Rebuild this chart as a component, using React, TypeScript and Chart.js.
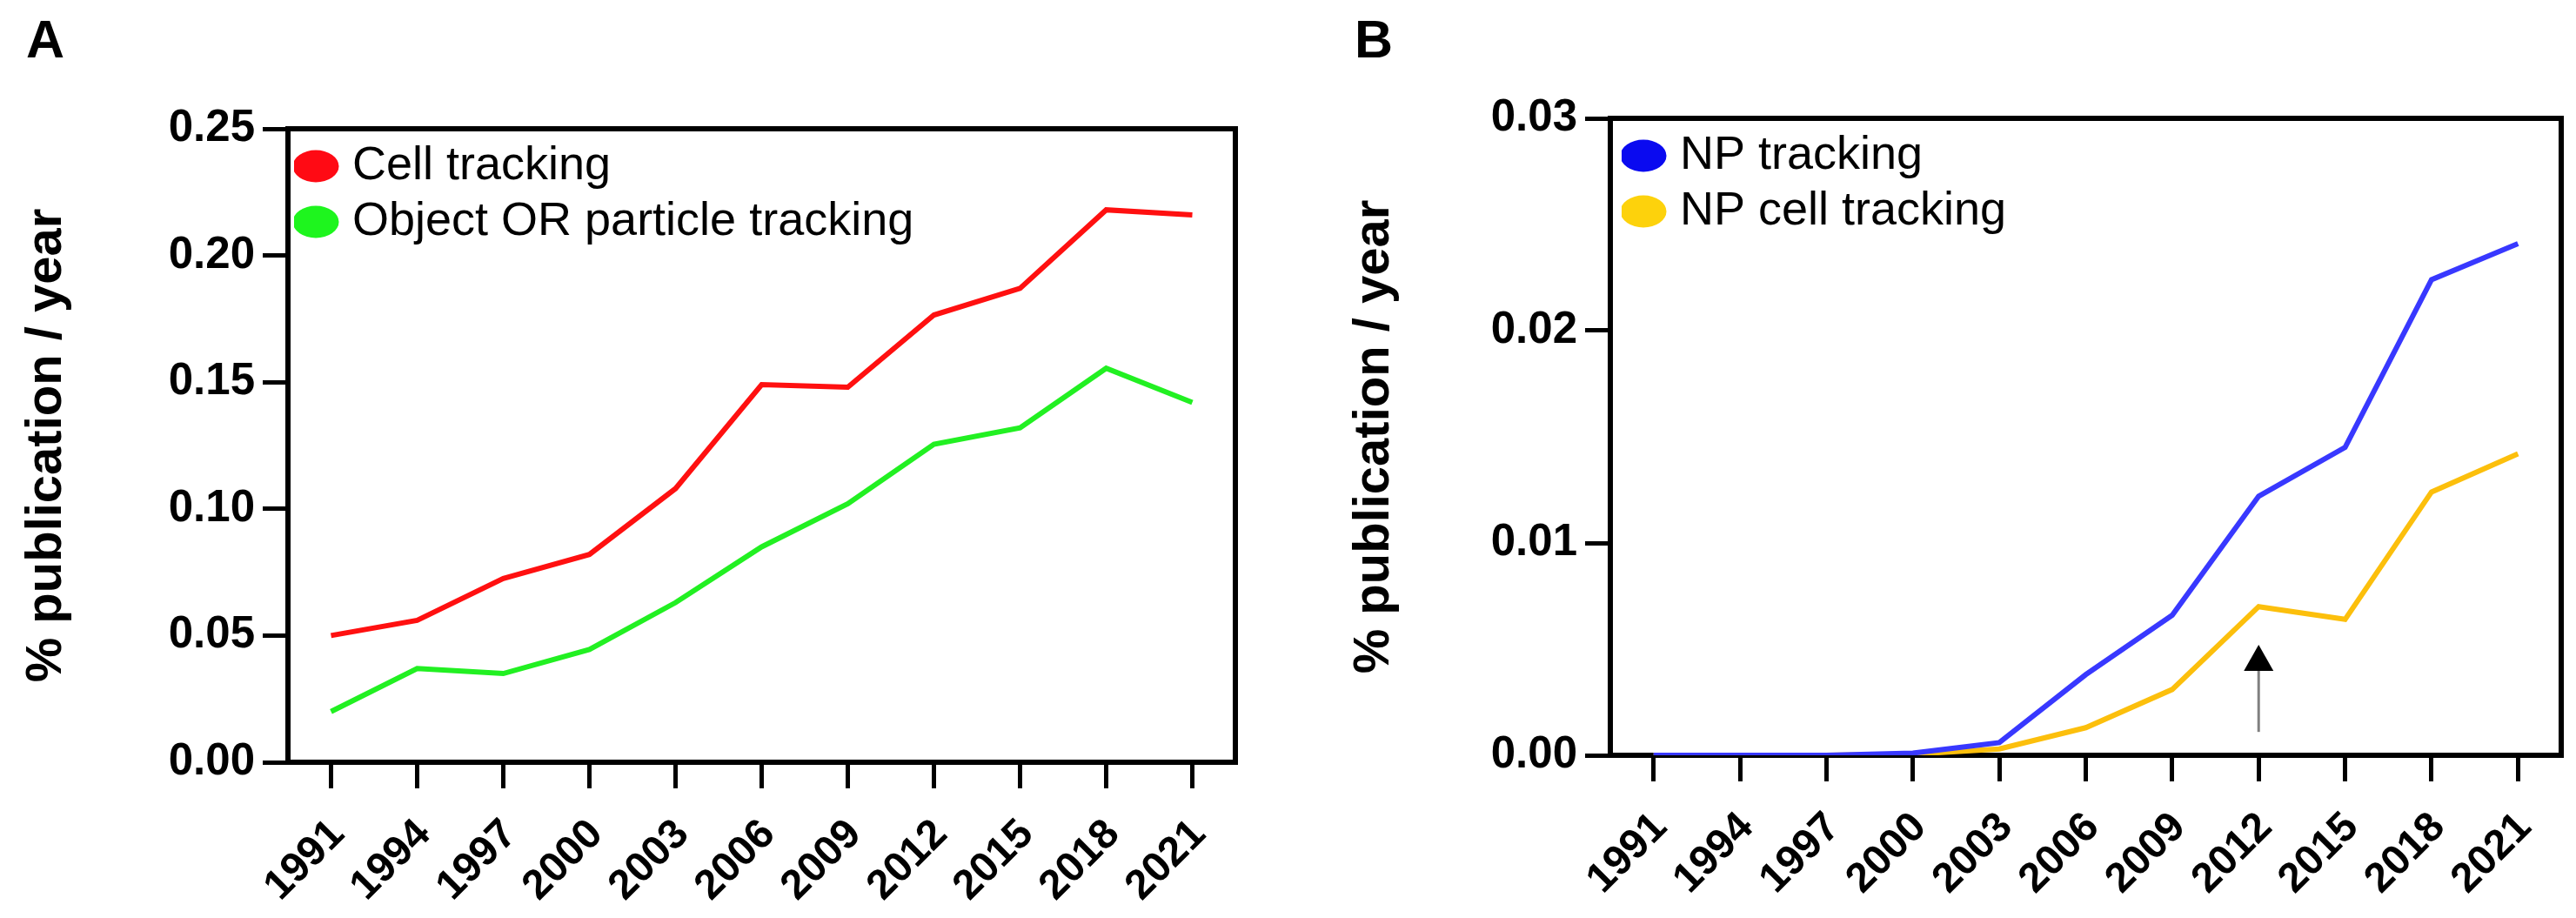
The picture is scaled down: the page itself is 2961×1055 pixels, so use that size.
import React, { useEffect, useRef } from 'react';
import { Chart, registerables } from 'chart.js';

Chart.register(...registerables);

const FONT = "'Liberation Sans', Arial, Helvetica, sans-serif";

// ---------- data ----------
const YEARS = ['1991', '1994', '1997', '2000', '2003', '2006', '2009', '2012', '2015', '2018', '2021'];

const CELL_TRACKING = [0.050, 0.056, 0.0725, 0.082, 0.108, 0.149, 0.148, 0.1765, 0.187, 0.218, 0.216];
const OBJECT_PARTICLE_TRACKING = [0.020, 0.037, 0.035, 0.0445, 0.063, 0.085, 0.102, 0.1255, 0.132, 0.1555, 0.142];

const NP_TRACKING = [0, 0, 0, 0.0001, 0.0006, 0.0038, 0.0066, 0.0122, 0.0145, 0.0224, 0.0241];
const NP_CELL_TRACKING = [0, 0, 0, 0.00005, 0.0003, 0.0013, 0.0031, 0.0070, 0.0064, 0.0124, 0.0142];

const Y_MAX_A = 0.25;
const Y_STEP_A = 0.05;
const Y_MAX_B = 0.03;
const Y_STEP_B = 0.01;

const ARROW_YEAR = '2012';
const ARROW_FROM = 0.0011;
const ARROW_TO = 0.0052;

const Y_TITLE = '% publication / year';

// ---------- helpers ----------
function ellipse(color: string): HTMLCanvasElement {
  const c = document.createElement('canvas');
  c.width = 54;
  c.height = 38;
  const ctx = c.getContext('2d')!;
  ctx.fillStyle = color;
  ctx.beginPath();
  ctx.ellipse(27, 19, 26.5, 18.5, 0, 0, Math.PI * 2);
  ctx.fill();
  return c;
}

type Spec = {
  datasets: { label: string; data: number[]; color: string; legendColor: string }[];
  yMax: number;
  yStep: number;
  decimals: number;
  pad: { top: number; right: number };
  yWidth: number;
  xHeight: number;
  legendOffset: { x: number; y: number };
  arrow?: { year: string; from: number; to: number };
};

function buildConfig(spec: Spec): any {
  const markers = spec.datasets.map((d) => ellipse(d.legendColor));
  const yTickFont = { family: FONT, size: 51, weight: 'bold' as const };
  const xTickFont = { family: FONT, size: 48, weight: 'bold' as const };

  const legendPlace = {
    id: 'legendPlace',
    beforeDraw(chart: any) {
      const lg = chart.legend;
      if (!lg) return;
      const h = lg.height;
      lg.top = chart.chartArea.top + spec.legendOffset.y;
      lg.bottom = lg.top + h;
      lg.left = chart.chartArea.left + spec.legendOffset.x;
    },
  };

  const arrowPlugin = {
    id: 'arrowPlugin',
    afterDatasetsDraw(chart: any) {
      if (!spec.arrow) return;
      const { ctx, scales } = chart;
      const x = scales.x.getPixelForValue(YEARS.indexOf(spec.arrow.year));
      const yBase = scales.y.getPixelForValue(spec.arrow.from);
      const yTip = scales.y.getPixelForValue(spec.arrow.to);
      const headH = 30;
      const headW = 34;
      ctx.save();
      ctx.strokeStyle = '#808080';
      ctx.lineWidth = 3;
      ctx.beginPath();
      ctx.moveTo(x, yBase);
      ctx.lineTo(x, yTip + headH - 2);
      ctx.stroke();
      ctx.fillStyle = '#000';
      ctx.beginPath();
      ctx.moveTo(x, yTip);
      ctx.lineTo(x - headW / 2, yTip + headH);
      ctx.lineTo(x + headW / 2, yTip + headH);
      ctx.closePath();
      ctx.fill();
      ctx.restore();
    },
  };

  return {
    type: 'line',
    data: {
      labels: YEARS,
      datasets: spec.datasets.map((d) => ({
        label: d.label,
        data: d.data,
        borderColor: d.color,
        backgroundColor: d.color,
        borderWidth: 6,
        pointRadius: 0,
        pointHoverRadius: 0,
        tension: 0,
        fill: false,
        borderJoinStyle: 'miter',
      })),
    },
    options: {
      responsive: false,
      animation: false,
      devicePixelRatio: 1,
      layout: { padding: { top: spec.pad.top, right: spec.pad.right, left: 0, bottom: 0 } },
      plugins: {
        tooltip: { enabled: false },
        legend: {
          display: true,
          position: 'chartArea',
          align: 'start',
          labels: {
            usePointStyle: true,
            pointStyleWidth: 30,
            padding: 10,
            color: '#000',
            font: { family: FONT, size: 54 },
            generateLabels: (chart: any) => {
              const items = Chart.defaults.plugins.legend.labels.generateLabels(chart);
              return items.map((it: any, i: number) => ({ ...it, pointStyle: markers[i], lineWidth: 0 }));
            },
          },
        },
      },
      scales: {
        x: {
          type: 'category',
          offset: true,
          position: 'bottom',
          grid: {
            display: true,
            drawOnChartArea: false,
            drawTicks: true,
            tickLength: 30,
            tickWidth: 5,
            tickColor: '#000',
            color: '#000',
            lineWidth: 5,
            offset: false,
          },
          border: { display: true, color: '#000', width: 6 },
          ticks: {
            autoSkip: false,
            maxRotation: 45,
            minRotation: 45,
            color: '#000',
            padding: 25,
            labelOffset: 8,
            font: xTickFont,
          },
          afterFit: (s: any) => {
            s.height = spec.xHeight;
          },
        },
        xTop: {
          type: 'category',
          position: 'top',
          offset: true,
          display: true,
          grid: { display: false, drawTicks: false },
          border: { display: true, color: '#000', width: 6 },
          ticks: { display: false },
          afterFit: (s: any) => {
            s.height = 0;
          },
        },
        y: {
          type: 'linear',
          position: 'left',
          min: 0,
          max: spec.yMax,
          grid: {
            display: true,
            drawOnChartArea: false,
            drawTicks: true,
            tickLength: 29,
            tickWidth: 5,
            tickColor: '#000',
            color: '#000',
            lineWidth: 5,
          },
          border: { display: true, color: '#000', width: 6 },
          ticks: {
            stepSize: spec.yStep,
            color: '#000',
            padding: 9,
            font: yTickFont,
            callback: (v: any) => Number(v).toFixed(spec.decimals),
          },
          title: {
            display: true,
            text: Y_TITLE,
            color: '#000',
            font: { family: FONT, size: 58, weight: 'bold' },
            padding: { top: 19, bottom: 0 },
          },
          afterFit: (s: any) => {
            s.width = spec.yWidth;
          },
        },
        yRight: {
          type: 'linear',
          position: 'right',
          min: 0,
          max: spec.yMax,
          display: true,
          grid: { display: false, drawTicks: false },
          border: { display: true, color: '#000', width: 6 },
          ticks: { display: false },
          afterFit: (s: any) => {
            s.width = 0;
          },
        },
      },
    },
    plugins: [legendPlace, arrowPlugin],
  };
}

function Panel({ spec, left, width }: { spec: Spec; left: number; width: number }) {
  const ref = useRef<HTMLCanvasElement | null>(null);
  useEffect(() => {
    if (!ref.current) return;
    const chart = new Chart(ref.current, buildConfig(spec));
    return () => chart.destroy();
  }, []);
  return (
    <canvas
      ref={ref}
      width={width}
      height={1055}
      style={{ position: 'absolute', left, top: 0, width, height: 1055 }}
    />
  );
}

const SPEC_A: Spec = {
  datasets: [
    { label: 'Cell tracking', data: CELL_TRACKING, color: '#ff1010', legendColor: '#ff0a14' },
    { label: 'Object OR particle tracking', data: OBJECT_PARTICLE_TRACKING, color: '#22f022', legendColor: '#1ef51e' },
  ],
  yMax: Y_MAX_A,
  yStep: Y_STEP_A,
  decimals: 2,
  pad: { top: 148, right: 106 },
  yWidth: 331,
  xHeight: 179,
  legendOffset: { x: 7, y: 6 },
};

const SPEC_B: Spec = {
  datasets: [
    { label: 'NP tracking', data: NP_TRACKING, color: '#3838ff', legendColor: '#0a0af0' },
    { label: 'NP cell tracking', data: NP_CELL_TRACKING, color: '#fcbf0c', legendColor: '#fdd20c' },
  ],
  yMax: Y_MAX_B,
  yStep: Y_STEP_B,
  decimals: 2,
  pad: { top: 136, right: 17 },
  yWidth: 325,
  xHeight: 187,
  legendOffset: { x: 13, y: 6 },
  arrow: { year: ARROW_YEAR, from: ARROW_FROM, to: ARROW_TO },
};

const panelLabel: React.CSSProperties = {
  position: 'absolute',
  top: 15,
  fontFamily: FONT,
  fontWeight: 'bold',
  fontSize: 61,
  lineHeight: 1,
  color: '#000',
};

export default function App() {
  return (
    <div
      style={{
        position: 'absolute',
        left: 0,
        top: 0,
        width: 2961,
        height: 1055,
        background: '#fff',
        overflow: 'hidden',
      }}
    >
      <Panel spec={SPEC_A} left={0} width={1526} />
      <Panel spec={SPEC_B} left={1526} width={1435} />
      <div style={{ ...panelLabel, left: 30 }}>A</div>
      <div style={{ ...panelLabel, left: 1557 }}>B</div>
    </div>
  );
}
